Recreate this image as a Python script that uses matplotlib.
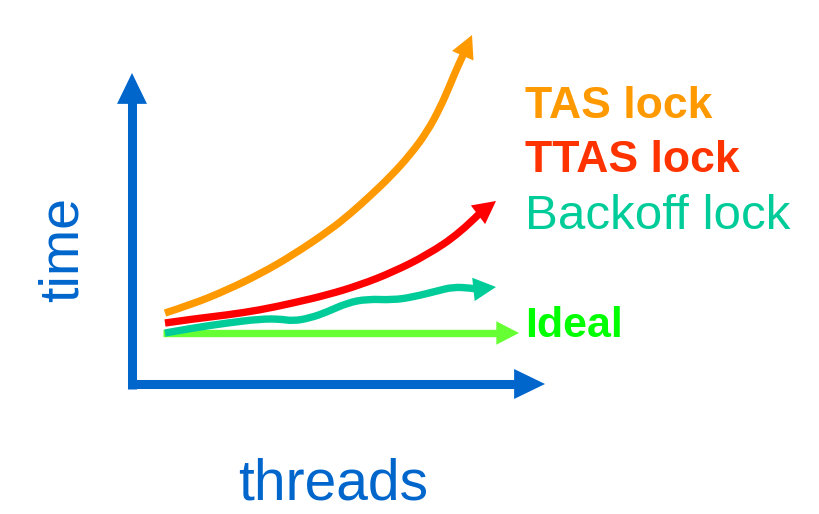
import matplotlib
matplotlib.use("Agg")
import matplotlib.pyplot as plt
from matplotlib.patches import FancyArrowPatch, PathPatch
from matplotlib.path import Path

plt.rcParams['font.family'] = ['Liberation Sans', 'DejaVu Sans']

# curves (threads -> x, time -> y), last point is the arrow tip
tas_x = [165, 193, 227, 260, 293, 330, 350, 370, 390, 410, 427, 440, 450, 457, 464, 472]
tas_y = [201, 210, 224, 240, 259, 284, 300, 318, 337, 359, 382, 406, 429, 446, 461, 479]

ttas_x = [165, 193, 227, 260, 293, 327, 360, 393, 427, 460, 479, 496]
ttas_y = [191, 195, 199, 204, 211, 219, 229, 242, 259, 281, 300, 313]

backoff_x = [165, 193, 227, 260, 280, 293, 310, 327, 347, 367, 393, 413, 437, 453, 470, 477, 496]
backoff_y = [181, 186, 191, 195, 195, 193, 196, 202, 211, 215, 214, 217, 223, 227, 226, 225, 227]

ideal_x = [163, 498, 519]
ideal_y = [181, 181, 181]

labels = ["TAS lock", "TTAS lock", "Backoff lock", "Ideal"]
colors = ["#FF9900", "#FF0000", "#00CC99", "#66FF33"]
label_colors = ["#FF9900", "#FF3300", "#00CC99", "#00FF00"]
label_weights = ["bold", "bold", "normal", "bold"]

BLUE = "#0066CC"

fig = plt.figure(figsize=(8.19, 5.14), dpi=100)
ax = fig.add_axes([0, 0, 1, 1])
ax.set_xlim(0, 819)
ax.set_ylim(0, 514)
ax.axis("off")


def head(p0, p1, color, length=14.5, half=7.5):
    # matplotlib measures the head along its sides, so convert axial length / half width
    side = (length ** 2 + half ** 2) ** 0.5
    style = "-|>,head_length=%g,head_width=%g" % (side, side * half / length)
    ax.add_patch(FancyArrowPatch(p0, p1, arrowstyle=style, mutation_scale=1,
                                 color=color, lw=0, shrinkA=0, shrinkB=0))


def smooth_line(xs, ys, color, lw):
    # quadratic bezier through the midpoints, read points act as control points
    pts = list(zip(xs, ys))
    verts = [pts[0]]
    codes = [Path.MOVETO]
    for i in range(1, len(pts) - 1):
        end = pts[i + 1] if i == len(pts) - 2 else ((pts[i][0] + pts[i + 1][0]) / 2,
                                                    (pts[i][1] + pts[i + 1][1]) / 2)
        verts += [pts[i], end]
        codes += [Path.CURVE3, Path.CURVE3]
    if len(pts) == 2:
        verts.append(pts[1])
        codes.append(Path.LINETO)
    ax.add_patch(PathPatch(Path(verts, codes), fill=False, edgecolor=color, lw=lw,
                           capstyle="butt", joinstyle="round"))


# axes
ax.plot([132, 132], [125.5, 414], color=BLUE, lw=6.5, solid_capstyle="butt")
head((132, 413), (132, 441), BLUE, 20, 9.7)
ax.plot([128, 518], [130, 130], color=BLUE, lw=6.5, solid_capstyle="butt")
head((517, 130), (545, 130), BLUE, 20, 9.7)

series = [(tas_x, tas_y), (ttas_x, ttas_y), (backoff_x, backoff_y), (ideal_x, ideal_y)]
for (xs, ys), c in zip(series[::-1], colors[::-1]):
    smooth_line(xs[:-1], ys[:-1], c, 5.3)
    head((xs[-2], ys[-2]), (xs[-1], ys[-1]), c)

label_pos = [(525, 396), (525, 342), (525, 285), (525, 177)]
label_sizes = [32, 32, 35.5, 31]
for t, (x, y), c, w, s in zip(labels, label_pos, label_colors, label_weights, label_sizes):
    ax.text(x, y, t, color=c, fontweight=w, fontsize=s, ha="left", va="baseline")

ax.text(333, 15, "threads", color=BLUE, fontsize=41, ha="center", va="baseline")
ax.text(78, 265, "time", color=BLUE, fontsize=40, rotation=90, rotation_mode="anchor",
        ha="center", va="baseline")

fig.savefig("out.png", dpi=100)
